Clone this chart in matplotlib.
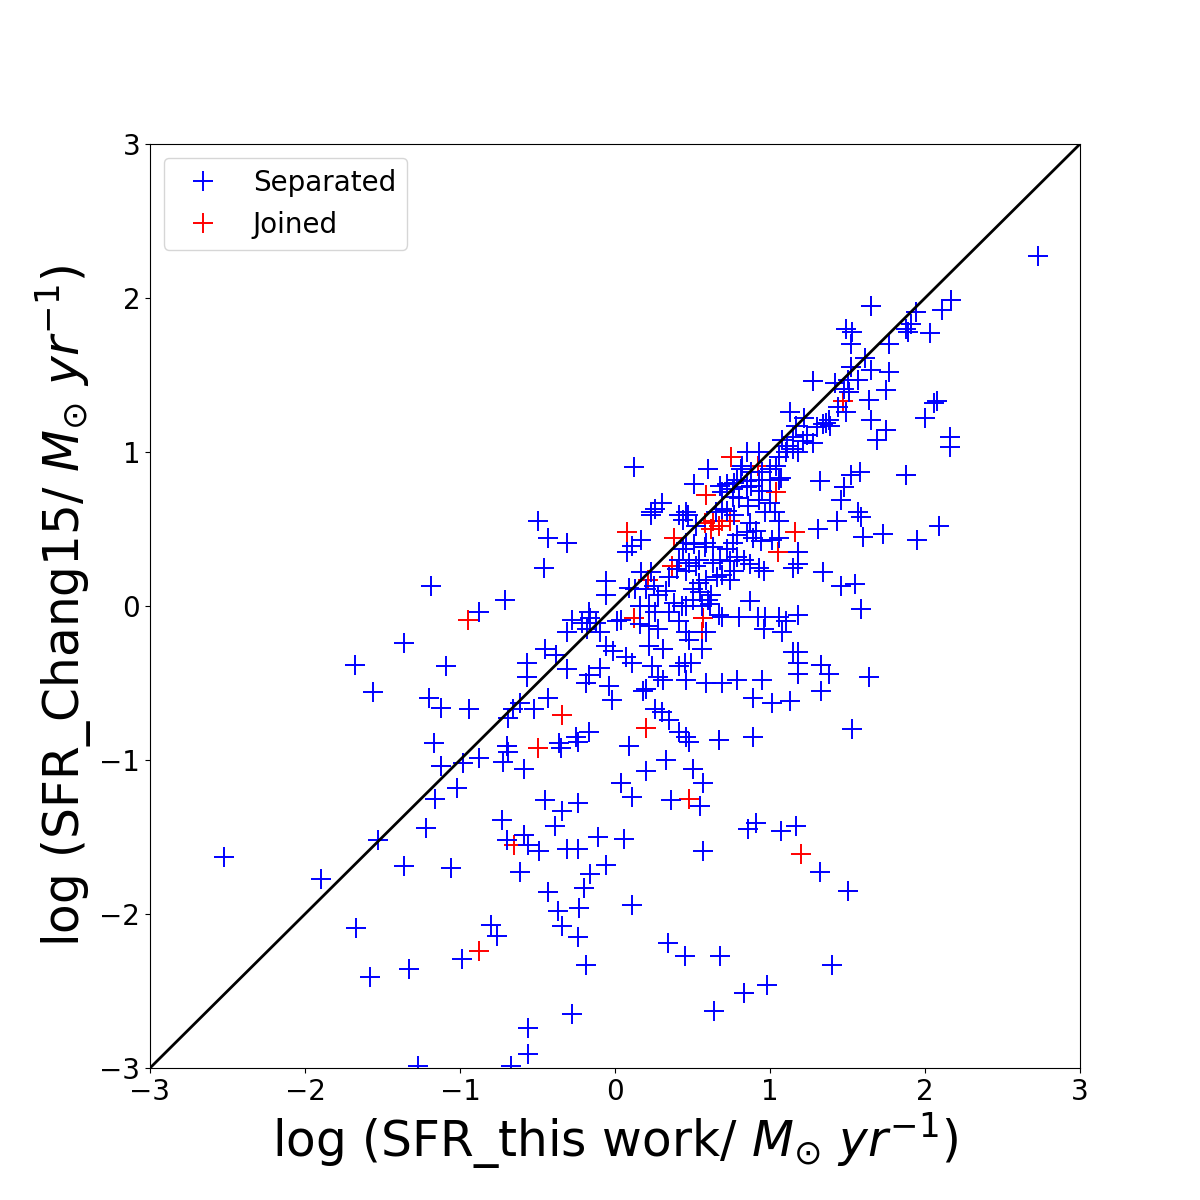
import numpy as np
import matplotlib
matplotlib.use('Agg')
import matplotlib.pyplot as plt
from matplotlib.lines import Line2D

# --- data (log SFR this work, log SFR Chang15) ---
sep_x = [
    -2.52, -1.90, -1.53, -1.36, -1.22, -1.16, -1.67, -1.58, -1.33, -1.27,
    -1.19, -1.36, -1.68, -1.56, -1.20, -1.12, -1.17, -1.12, -1.09,
    -0.50, -0.43, -0.31, -0.46, 0.23, 0.30, 0.41, -0.71, -0.88, -0.06, -0.06,
    -0.16, -0.12, -0.21, -0.31, 0.04, 0.22, -0.06, -0.01, 0.07, 0.11,
    0.22, 0.31, 0.24, 0.41, 0.28, 0.45, -0.45, -0.38, -0.57, -0.57,
    -0.31, -0.17, -0.19, -0.10, -0.04, -0.02, 0.18, 0.20, 0.31, -0.43,
    -0.52, -0.66, -0.61, -0.69, -0.94, 0.26, 0.30, 0.35, 0.41, 0.46,
    -0.25, -0.17, -0.36, -0.70, 0.09,
    -0.69, -0.35, -0.24, 0.48, 0.67, -0.88, -0.98, -0.72, -0.59, -1.02,
    0.20, 0.33, 0.50, 0.57, 0.04, 0.11, 0.36, 0.55, -0.45, -0.34,
    -0.24, -0.73, -0.39, -0.59, -0.70, -0.56, -0.49, -0.31, -0.24, -0.11,
    0.06, 0.57, -1.06, -0.61, -0.06, -0.16, -0.20, -0.43, -0.23, -0.37,
    0.11, -0.34, -0.80, -0.76, -0.24, -0.99, -0.19, 0.34, 0.45, 0.68,
    -0.28, -0.56, -0.56, 0.64, -0.67,
    1.18, 1.33, 1.38, 1.64, 0.89, 1.01, 1.13, 1.33, 1.53, 0.89,
    0.86, 0.91, 1.07, 1.17, 1.32, 1.50, 1.40, 0.98, 0.83,
    2.73, 2.17, 2.11, 1.94, 1.91, 1.88, 1.89, 2.03, 1.77, 1.65,
    1.61, 1.65, 1.77, 1.75, 1.64, 1.65, 1.75, 1.69, 2.08, 2.06,
    2.00, 2.16, 2.16, 1.88, 1.58, 2.09, 1.95, 1.73,
    1.49, 1.53, 1.52, 1.52, 1.28, 1.42, 1.50, 1.57, 1.48, 1.51,
    1.44, 1.49, 1.38, 1.36, 1.34, 1.39, 1.30, 1.24, 1.13, 1.17,
    1.22, 1.11, 1.15, 1.18, 1.06, 1.21, 0.93, 0.85, 1.00, 1.04,
    0.81, 0.60, 0.79, 0.85, 0.93, 1.00, 1.06, 0.72, 0.85, 1.32,
    1.52, 1.48, 0.69, 0.76, 0.82, 0.88, 0.95, 1.07, 0.68, 0.77,
    1.28, 1.08, 1.15, 1.10,
    1.46, 1.57, 1.59, 1.60, 1.31, 1.43, 1.06, 1.18, 1.18, 1.15,
    1.34, 1.46, 1.55, 1.59, 0.93, 0.96, 0.87, 0.87, 0.69, 0.80,
    0.92, 0.97, 1.06, 1.18, 0.61, 0.74, 0.54, 0.46, 0.46, 0.48,
    0.56, 0.49, 0.96, 1.08, 1.10, 1.15, 1.18, 1.18, 0.46, 0.59,
    0.69, 0.79, 0.95, 0.43, 0.56, 0.60, 0.67,
    0.12, 0.26, 0.23, 0.11, 0.17, 0.08, 0.44, 0.47, 0.52, 0.58,
    0.44, 0.41, 0.40, 0.35, 0.46, 0.52, 0.55, 0.17, 0.23, 0.25,
    0.20, 0.13, 0.09, 0.28, 0.33, 0.16, 0.22, 0.35, 0.38, 0.26,
    0.50, 0.01, 0.16, -0.17, -0.18, -0.28, -0.10, 0.41, 0.28, 0.59,
    0.46, 0.65, 0.69, 0.72, 0.77, 0.87, 0.91, 0.85, 0.79, 0.76,
    0.89, 0.94, 1.01, 1.06, 0.72, 0.63, 0.59, 0.51, 0.46, 0.63,
    0.68, 0.74, 0.79, 0.83, 0.54, 0.48, 0.69, 0.66, 0.59, 0.50,
    0.77, 0.62, 0.51, 0.76, 0.88, 0.95, 0.93, 1.00, 0.86, 0.80,
    1.03, 0.97,
]
sep_y = [
    -1.63, -1.77, -1.52, -1.69, -1.44, -1.25, -2.09, -2.41, -2.36, -2.99,
    0.13, -0.24, -0.38, -0.56, -0.60, -0.66, -0.89, -1.04, -0.39,
    0.55, 0.44, 0.41, 0.25, 0.61, 0.67, 0.59, 0.04, -0.04, 0.16, 0.07,
    -0.08, -0.11, -0.11, -0.17, -0.09, -0.13, -0.26, -0.29, -0.33, -0.37,
    -0.26, -0.28, -0.39, -0.39, -0.46, -0.37, -0.28, -0.32, -0.37, -0.46,
    -0.41, -0.45, -0.50, -0.40, -0.52, -0.61, -0.55, -0.54, -0.48, -0.60,
    -0.67, -0.67, -0.63, -0.73, -0.67, -0.67, -0.69, -0.74, -0.82, -0.85,
    -0.85, -0.82, -0.89, -0.91, -0.91,
    -0.95, -0.92, -0.88, -0.88, -0.87, -0.99, -1.02, -1.01, -1.06, -1.18,
    -1.07, -1.00, -1.06, -1.15, -1.15, -1.24, -1.26, -1.30, -1.26, -1.33,
    -1.28, -1.39, -1.43, -1.49, -1.52, -1.55, -1.59, -1.58, -1.58, -1.50,
    -1.51, -1.59, -1.70, -1.73, -1.68, -1.74, -1.83, -1.86, -1.96, -1.98,
    -1.94, -2.08, -2.07, -2.14, -2.15, -2.29, -2.33, -2.19, -2.27, -2.27,
    -2.65, -2.74, -2.91, -2.63, -2.99,
    -0.44, -0.38, -0.44, -0.46, -0.60, -0.63, -0.62, -0.55, -0.80, -0.85,
    -1.45, -1.41, -1.46, -1.43, -1.73, -1.85, -2.33, -2.46, -2.51,
    2.27, 1.99, 1.92, 1.91, 1.83, 1.80, 1.78, 1.77, 1.70, 1.95,
    1.61, 1.53, 1.52, 1.40, 1.34, 1.21, 1.14, 1.08, 1.33, 1.32,
    1.22, 1.10, 1.03, 0.85, 0.87, 0.52, 0.43, 0.47,
    1.80, 1.78, 1.70, 1.55, 1.46, 1.45, 1.47, 1.47, 1.41, 1.39,
    1.29, 1.26, 1.21, 1.19, 1.18, 1.17, 1.16, 1.11, 1.26, 1.17,
    1.22, 1.04, 1.02, 1.00, 0.97, 1.07, 1.00, 1.00, 0.89, 0.91,
    0.89, 0.89, 0.82, 0.81, 0.82, 0.82, 0.82, 0.79, 0.77, 0.81,
    0.85, 0.77, 0.74, 0.71, 0.91, 0.87, 0.87, 0.83, 0.78, 0.80,
    1.06, 1.08, 1.10, 1.00,
    0.69, 0.61, 0.58, 0.45, 0.50, 0.55, 0.55, 0.35, 0.27, 0.25,
    0.22, 0.13, 0.14, -0.02, 0.25, 0.23, 0.27, 0.03, -0.07, -0.07,
    -0.07, -0.07, -0.07, -0.06, 0.01, 0.17, 0.15, 0.00, -0.17, -0.22,
    -0.28, -0.37, -0.15, -0.17, -0.10, -0.30, -0.30, -0.37, -0.48, -0.50,
    -0.50, -0.48, -0.48, 0.00, 0.00, 0.04, -0.06,
    0.90, 0.63, 0.59, 0.39, 0.43, 0.35, 0.56, 0.59, 0.52, 0.38,
    0.37, 0.30, 0.24, 0.19, 0.23, 0.26, 0.09, 0.22, 0.22, 0.13,
    0.11, 0.11, 0.12, 0.07, 0.10, 0.00, 0.00, -0.04, 0.02, -0.04,
    0.04, -0.10, -0.12, -0.04, -0.15, -0.09, -0.17, -0.10, -0.15, -0.17,
    0.61, 0.61, 0.63, 0.62, 0.59, 0.54, 0.49, 0.48, 0.46, 0.41,
    0.44, 0.42, 0.43, 0.44, 0.37, 0.38, 0.41, 0.40, 0.41, 0.28,
    0.30, 0.29, 0.32, 0.30, 0.30, 0.28, 0.20, 0.19, 0.17, 0.11,
    0.23, 0.07, 0.79, 0.76, 0.78, 0.75, 0.69, 0.67, 0.65, 0.70,
    0.61, 0.61,
]

join_x = [
    -0.95, 0.08, 0.38, 0.12, -0.34, 0.20, -0.50, 0.48, -0.65, -0.88,
    1.20, 1.47, 0.75, 0.92, 0.59, 1.04, 1.16, 1.05, 0.57, 0.56,
    0.58, 0.63, 0.69, 0.74, 0.67, 0.62, 0.37, 0.21,
    -1.12, -0.31, 0.31, -0.38, -0.17, -0.19, -0.70, 0.67, -0.98, 0.50,
    0.04, -0.59, -0.20, -0.43, 1.18, 1.33, 1.50, 0.83, 2.17, 1.94,
    1.65, 1.75, 1.88, 1.52, 1.28, 1.57, 1.51, 1.48, 1.43, 1.18,
    0.54, 0.40, 1.18,
]
join_y = [
    -0.09, 0.48, 0.44, -0.08, -0.71, -0.79, -0.92, -1.25, -1.55, -2.24,
    -1.61, 1.33, 0.97, 0.91, 0.72, 0.74, 0.48, 0.35, -0.08, -0.17,
    0.54, 0.55, 0.55, 0.55, 0.52, 0.50, 0.26, 0.17,
    -1.04, 0.41, -0.28, -0.32, -0.45, -0.50, -0.91, -0.87, -1.02, -1.06,
    -1.15, -1.49, -1.83, -1.86, -0.44, -0.38, -1.85, -2.51, 1.99, 1.91,
    1.95, 1.14, 0.85, 1.55, 1.46, 1.47, 1.39, 0.77, 0.55, 0.35,
    0.15, 0.24, -0.37,
]

ticks = [-3, -2, -1, 0, 1, 2, 3]

# --- plot ---
fig, ax = plt.subplots(figsize=(12, 12), dpi=100)

ax.plot(join_x, join_y, '+', color='red', markersize=15, mew=1.4, linestyle='none')
ax.plot(sep_x, sep_y, '+', color='blue', markersize=15, mew=1.4, linestyle='none')
ax.plot([-3, 3], [-3, 3], color='black', lw=2)

ax.set_xlim(-3, 3)
ax.set_ylim(-3, 3)
ax.set_xticks(ticks)
ax.set_yticks(ticks)
ax.tick_params(labelsize=20)

ax.set_xlabel(r'log (SFR_this work/ $M_{\odot}$ $yr^{-1}$)', fontsize=35)
ax.set_ylabel(r'log (SFR_Chang15/ $M_{\odot}$ $yr^{-1}$)', fontsize=35)

handles = [
    Line2D([], [], marker='+', color='blue', markersize=15, mew=1.4, linestyle='none', label='Separated'),
    Line2D([], [], marker='+', color='red', markersize=15, mew=1.4, linestyle='none', label='Joined'),
]
ax.legend(handles=handles, loc='upper left', fontsize=20)

plt.savefig('out.png', dpi=100)
